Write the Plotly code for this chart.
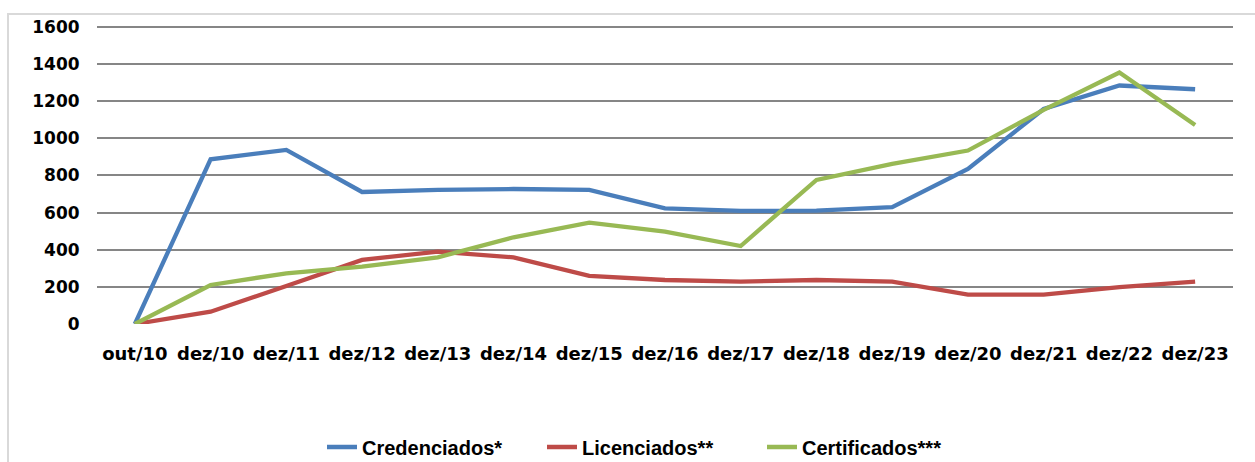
import plotly.graph_objects as go

categories = ["out/10", "dez/10", "dez/11", "dez/12", "dez/13", "dez/14", "dez/15",
              "dez/16", "dez/17", "dez/18", "dez/19", "dez/20", "dez/21", "dez/22", "dez/23"]
credenciados = [0, 887, 937, 711, 722, 727, 722, 623, 609, 610, 629, 835, 1158, 1284, 1264]
licenciados = [0, 66, 205, 345, 390, 359, 259, 237, 228, 237, 228, 158, 158, 198, 228]
certificados = [0, 210, 273, 309, 359, 467, 546, 497, 420, 776, 862, 934, 1153, 1354, 1071]
y_ticks = [0, 200, 400, 600, 800, 1000, 1200, 1400, 1600]

TICK_FONT = "DejaVu Sans, Liberation Sans, Arial, sans-serif"
LEG_FONT = "Liberation Sans, Arial, sans-serif"

fig = go.Figure()
series = [
    ("Credenciados*", credenciados, "#4A7EBB"),
    ("Licenciados**", licenciados, "#BE4B48"),
    ("Certificados***", certificados, "#98B954"),
]
for name, vals, color in series:
    fig.add_trace(go.Scatter(x=categories, y=vals, name=name, mode="lines",
                             line=dict(color=color, width=4.3)))

W, H = 1255, 462
ml, mr, mt, mb = 97, 22, 25, 138
pw, ph = W - ml - mr, H - mt - mb

fig.update_layout(
    width=W, height=H,
    margin=dict(l=ml, r=mr, t=mt, b=mb, autoexpand=False),
    paper_bgcolor="white", plot_bgcolor="white",
    font=dict(family=TICK_FONT, size=18, color="black"),
    showlegend=True,
    legend=dict(orientation="h", xref="container", yref="container",
                x=322 / W, xanchor="left", y=(H - 447) / H, yanchor="middle",
                font=dict(family=LEG_FONT, size=20, color="black", weight="bold"),
                entrywidth=175, entrywidthmode="pixels",
                bgcolor="rgba(0,0,0,0)", borderwidth=0),
    xaxis=dict(type="category", range=[-0.5, len(categories) - 0.5],
               showgrid=False, zeroline=False, showline=False, automargin=False,
               ticks="outside", ticklen=13, tickcolor="rgba(0,0,0,0)",
               tickfont=dict(family=TICK_FONT, size=18, weight="bold")),
    yaxis=dict(range=[0, 1610], tickvals=y_ticks, showgrid=True,
               gridcolor="#868686", gridwidth=1.5, zeroline=False, showline=False,
               automargin=False,
               ticks="outside", ticklen=13, tickcolor="rgba(0,0,0,0)",
               tickfont=dict(family=TICK_FONT, size=17, weight="bold")),
)

# light outer chart border
fig.add_shape(type="rect", xref="paper", yref="paper",
              x0=(8 - ml) / pw, x1=(W + 5 - ml) / pw,
              y0=-(H + 5 - (H - mb)) / ph, y1=((H - mb) - 14) / ph,
              line=dict(color="#D9D9D9", width=2), fillcolor="rgba(0,0,0,0)", layer="below")

fig.write_html("out.html", config={"displayModeBar": False},
               post_script="document.body.style.margin='0';document.body.style.overflow='hidden';")
